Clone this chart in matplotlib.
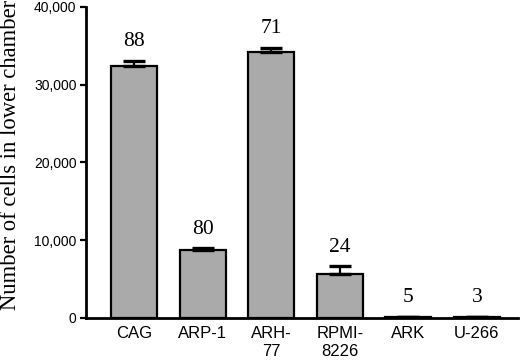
import matplotlib
matplotlib.use("Agg")
import matplotlib.pyplot as plt
import numpy as np

categories = ["CAG", "ARP-1", "ARH-\n77", "RPMI-\n8226", "ARK", "U-266"]
values = [32400, 8700, 34150, 5700, 100, 100]
errors = [700, 250, 600, 950, 0, 0]
labels = ["88", "80", "71", "24", "5", "3"]
yticks = [0, 10000, 20000, 30000, 40000]
ytick_labels = ["0", "10,000", "20,000", "30,000", "40,000"]

fig = plt.figure(figsize=(5.2, 3.63), dpi=100)
ax = fig.add_axes([0.166, 0.124, 0.83, 0.857])

x = np.arange(len(categories))
bars = ax.bar(x, values, width=0.67, color="#aaaaaa", edgecolor="black", linewidth=1.6, zorder=2)
ax.errorbar(x, values, yerr=[np.zeros(len(errors)), errors], fmt="none", ecolor="black",
            elinewidth=1.6, capsize=8, capthick=2.4, zorder=3)

for xi, v, e, lab in zip(x, values, errors, labels):
    ax.annotate(lab, (xi, v + e), xytext=(0, 7), textcoords="offset points",
                ha="center", va="bottom", fontsize=15.5, family="Liberation Serif")

ax.set_xlim(-0.7, 5.6)
ax.set_ylim(0, 40000)
ax.set_yticks(yticks)
ax.set_yticklabels(ytick_labels, family="Liberation Sans", fontsize=10)
ax.set_xticks(x)
ax.set_xticklabels(categories, family="Liberation Sans", fontsize=12, linespacing=1.2)
ax.tick_params(axis="x", length=0, pad=6)
ax.tick_params(axis="y", direction="out", length=4, width=1.6, pad=3)
ax.spines["top"].set_visible(False)
ax.spines["right"].set_visible(False)
ax.spines["left"].set_linewidth(2)
ax.spines["bottom"].set_linewidth(2)
fig.text(11 / 520, 1 - 155 / 363, "Number of cells in lower chamber", rotation=90,
         ha="center", va="center", family="Liberation Serif", fontsize=16.3)

fig.savefig("out.png", dpi=100)
